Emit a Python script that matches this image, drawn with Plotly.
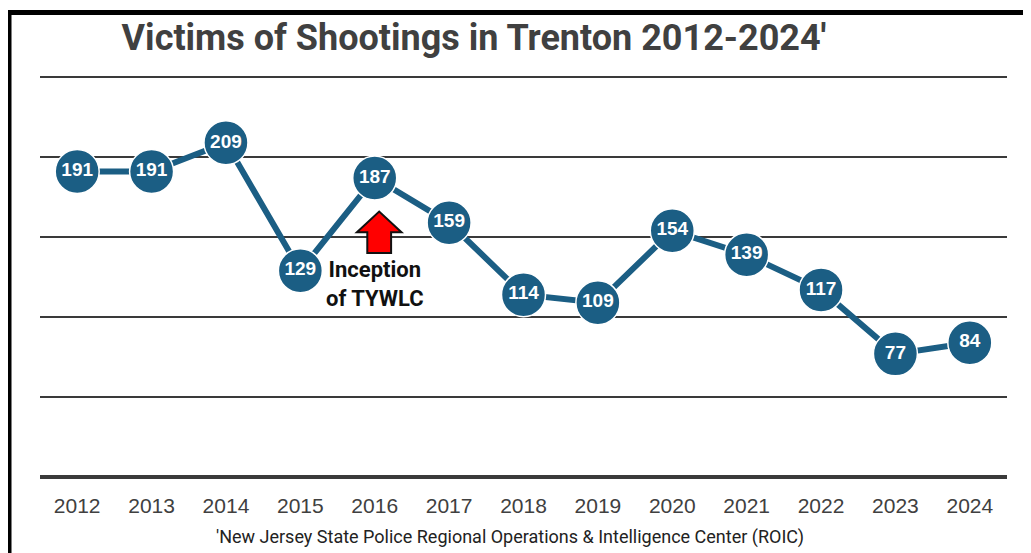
import plotly.graph_objects as go

years = [2012, 2013, 2014, 2015, 2016, 2017, 2018, 2019, 2020, 2021, 2022, 2023, 2024]
victims = [191, 191, 209, 129, 187, 159, 114, 109, 154, 139, 117, 77, 84]
title_text = "Victims of Shootings in Trenton 2012-2024'"
source_text = "'New Jersey State Police Regional Operations & Intelligence Center (ROIC)"
note_text = "Inception<br>of TYWLC"
note_year = 2016

BLUE = "#1B5E84"
FONT = "Roboto, Liberation Sans, Arial, sans-serif"

W, H = 1023, 545
L, R, T, B = 32, 24, 66, 76
PH = H - T - B

fig = go.Figure()
fig.add_trace(go.Scatter(
    x=years, y=victims, mode="lines+markers+text",
    line=dict(color=BLUE, width=6),
    marker=dict(size=44, color=BLUE, line=dict(color="white", width=1.5)),
    text=[str(v) for v in victims], textposition="middle center",
    textfont=dict(color="white", size=19, family="Liberation Sans, Arial, sans-serif", weight="bold"),
    cliponaxis=False, hoverinfo="skip", showlegend=False,
))

# red block arrow (in data coordinates around the 2016 point)
ax = note_year + 0.06
path = (f"M {ax-0.16} 140 L {ax+0.16} 140 L {ax+0.16} 153 L {ax+0.30} 153 "
        f"L {ax} 166 L {ax-0.30} 153 L {ax-0.16} 153 Z")
fig.add_shape(type="path", path=path, xref="x", yref="y",
              fillcolor="#FF0000", line=dict(color="#111111", width=2))

fig.add_annotation(x=note_year, y=121, xref="x", yref="y", text=note_text,
                   showarrow=False, align="center",
                   font=dict(family=FONT, size=22, color="#111111", weight="bold"))

fig.add_annotation(x=0.486, y=-(529 - (H - B)) / PH, xref="paper", yref="paper", text=source_text,
                   showarrow=False, yanchor="middle",
                   font=dict(family=FONT, size=18, color="#222222"))

# border (left and top visible)
fig.add_shape(type="rect", xref="paper", yref="paper",
              x0=(1 - L) / (W - L - R), x1=1.2, y0=-0.5, y1=1 + (T - 4.5) / PH,
              line=dict(color="black", width=5), fillcolor="rgba(0,0,0,0)")

fig.update_layout(
    width=W, height=H,
    margin=dict(l=L, r=R, t=T, b=B),
    paper_bgcolor="white", plot_bgcolor="white",
    title=dict(text=title_text, x=466 / W, xanchor="center", xref="container",
               y=1 - 29 / H, yanchor="middle",
               font=dict(family=FONT, size=36, color="#404040", weight="bold")),
    xaxis=dict(range=[2011.5, 2024.5], tickvals=years, ticktext=[str(y) for y in years],
               showgrid=False, zeroline=False, showline=False, ticks="",
               ticklabelstandoff=14,
               tickfont=dict(family="Liberation Sans, Arial, sans-serif", size=21, color="#404040")),
    yaxis=dict(range=[0, 252], dtick=50, showgrid=True, gridcolor="#3a3a3a", gridwidth=1.5,
               zeroline=True, zerolinecolor="#3a3a3a", zerolinewidth=3.5,
               showticklabels=False, ticks="", showline=False),
)

fig.write_html("out.html")
